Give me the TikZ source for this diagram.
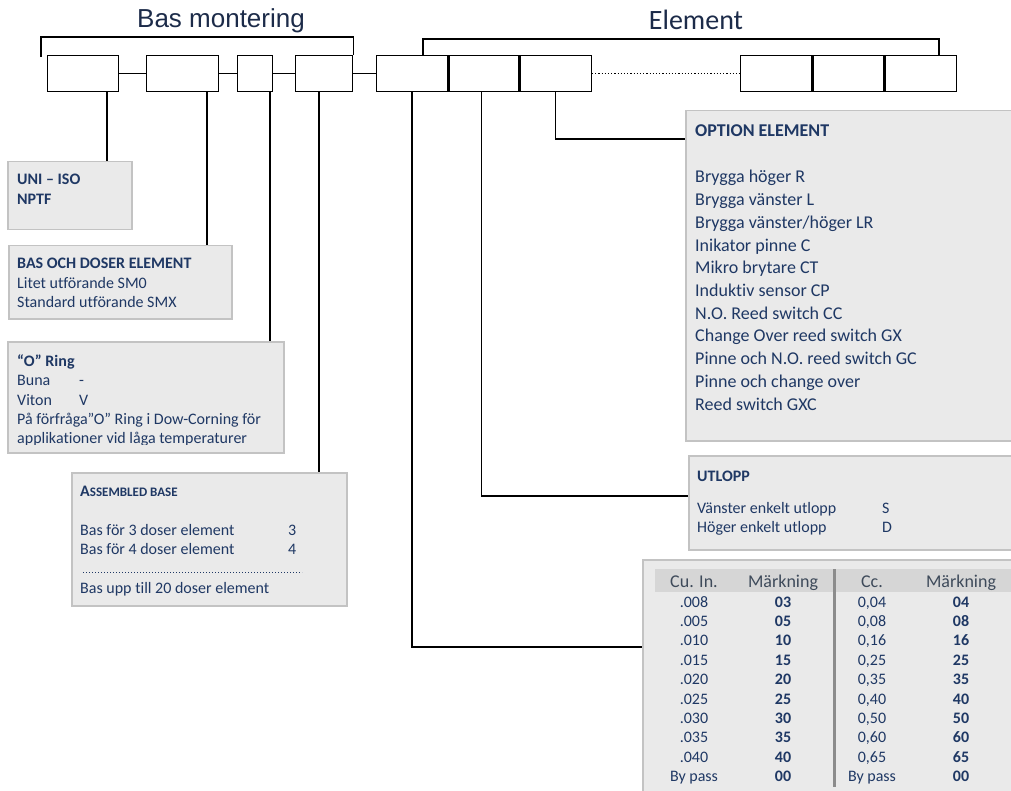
\documentclass[tikz,border=0pt]{standalone}
\usepackage{fontspec}
\setmainfont{Carlito}[Ligatures=NoCommon]
\newfontfamily\arialfont{Liberation Sans}
\usetikzlibrary{positioning}

\definecolor{navy}{HTML}{1F3864}
\definecolor{titlecol}{HTML}{1C2B49}
\definecolor{boxfill}{HTML}{EAEAEA}
\definecolor{boxline}{HTML}{C3C3C3}
\definecolor{hdrfill}{HTML}{D6D6D6}
\definecolor{hdrtext}{HTML}{3E4A5A}
\definecolor{divider}{HTML}{8C8C8C}

\tikzset{
  cell/.style={draw, line width=1.3pt, minimum height=36pt, inner sep=0pt, anchor=north west},
  info/.style={draw=boxline, fill=boxfill, line width=1.5pt, inner sep=0pt, anchor=north west},
  wire/.style={line width=1.4pt},
  txt/.style={anchor=base west, inner sep=0pt, text=navy, font=\fontsize{16}{19}\selectfont},
  txtb/.style={txt, font=\fontsize{16}{19}\selectfont\bfseries},
  big/.style={txt, font=\fontsize{18}{22}\selectfont},
  bigb/.style={txt, font=\fontsize{18}{22}\selectfont\bfseries},
  col/.style={anchor=base, inner sep=0pt, text=navy, font=\fontsize{16}{19}\selectfont},
  colb/.style={col, font=\fontsize{16}{19}\selectfont\bfseries},
  hdr/.style={anchor=base, inner sep=0pt, text=hdrtext, font=\fontsize{18}{22}\selectfont}
}

\begin{document}
\begin{tikzpicture}[x=1pt, y=-1pt]

\useasboundingbox (0,0) rectangle (1011,791);
\clip (0,0) rectangle (1011,791);

% info boxes
\node[info, minimum width=124pt, minimum height=68pt] (uni) at (7,161) {};
\node[info, minimum width=223pt, minimum height=73pt] (bas) at (8,245) {};
\node[info, minimum width=276pt, minimum height=111pt] (oring) at (7,341) {};
\node[info, minimum width=275pt, minimum height=133pt] (asm) at (71,472) {};
\node[info, minimum width=340pt, minimum height=330pt] (opt) at (685,110) {};
\node[info, minimum width=340pt, minimum height=94pt] (utl) at (688,455) {};
\node[info, minimum width=380pt, minimum height=240pt] (tab) at (642,559) {};

% code cells
\node[cell, minimum width=71pt] (b1) at (47,55) {};
\node[cell, minimum width=72pt] (b2) at (146,55) {};
\node[cell, minimum width=35pt] (b3) at (237,55) {};
\node[cell, minimum width=57pt] (b4) at (295,55) {};
\node[cell, minimum width=71pt] (b5) at (376,55) {};
\node[cell, minimum width=70pt, right=0pt of b5] (b6) {};
\node[cell, minimum width=71pt, right=0pt of b6] (b7) {};
\node[cell, minimum width=71pt] (b8) at (740,55) {};
\node[cell, minimum width=71pt, right=0pt of b8] (b9) {};
\node[cell, minimum width=71pt, right=0pt of b9] (b10) {};

\draw[wire] (b1.east) -- (b2.west);
\draw[wire] (b2.east) -- (b3.west);
\draw[wire] (b3.east) -- (b4.west);
\draw[wire] (b4.east) -- (b5.west);
\draw[line width=1.2pt, dotted] (b7.east) -- (b8.west);

% brackets
\draw[wire] ([xshift=-6pt,yshift=-2pt]b1.north west) |- ([yshift=18pt]b4.north east) -- (b4.north east);
\draw[wire] ([xshift=47pt]b5.north west) |- ([xshift=-18pt,yshift=16pt]b10.north east) -- ([xshift=-18pt]b10.north east);
\node[anchor=base, inner sep=0pt, text=titlecol, font=\arialfont\fontsize{26}{30}\selectfont] (tbas) at (221,28) {Bas montering};
\node[anchor=base, inner sep=0pt, text=titlecol, font=\fontsize{28}{32}\selectfont] (telem) at (696,30) {Element};

% leader lines
\coordinate (c1) at ([xshift=60pt]b1.south west);
\coordinate (c2) at ([xshift=61pt]b2.south west);
\coordinate (c3) at ([xshift=33pt]b3.south west);
\coordinate (c4) at ([xshift=24pt]b4.south west);
\coordinate (c6) at ([xshift=33pt]b6.south west);
\draw[wire] (c1) -- (c1 |- uni.north);
\draw[wire] (c2) -- (c2 |- bas.north);
\draw[wire] (c3) -- (c3 |- oring.north);
\draw[wire] (c4) -- (c4 |- asm.north);
\draw[wire] (b5.south) |- ([yshift=-88pt]tab.north west);
\draw[wire] (c6) |- ([yshift=-41pt]utl.north west);
\draw[wire] (b7.south) |- ([yshift=-29pt]opt.north west);

% texts left
\node[txtb] (uni1) at (17,185) {UNI – ISO};
\node[txtb] (uni2) at (17,205) {NPTF};

\node[txtb] (bas1) at (17,269) {BAS OCH DOSER ELEMENT};
\node[txt] (bas2) at (17,289) {Litet utförande SM0};
\node[txt] (bas3) at (17,308) {Standard utförande SMX};

\begin{scope}
\clip (oring.north west) rectangle ([yshift=9pt]oring.south east);
\node[txtb] (or0) at (17,366) {“O” Ring};
\node[txt] (or1) at (17,385) {\makebox[62pt][l]{Buna}-};
\node[txt] (or2) at (17,405) {\makebox[62pt][l]{Viton}V};
\node[txt] (or3) at (17,424) {På förfråga”O” Ring i Dow-Corning för};
\node[txt] (or4) at (17,443) {applikationer vid låga temperaturer};
\end{scope}

\node[txtb] (asm0) at (80,496) {A{\fontsize{13}{16}\selectfont SSEMBLED BASE}};
\node[txt] (asm1) at (80,535) {\makebox[208pt][l]{Bas för 3 doser element}3};
\node[txt] (asm2) at (80,554) {\makebox[208pt][l]{Bas för 4 doser element}4};
\draw[navy, line width=0.9pt, dash pattern=on 0.9pt off 2.1pt] ([xshift=12pt,yshift=-100pt]asm.north west) -- ++(219,0);
\node[txt] (asm3) at (80,593) {Bas upp till 20 doser element};

% option element
\node[bigb] (opt0) at (695,137) {OPTION ELEMENT};
\foreach \t [count=\i] in {Brygga höger R, Brygga vänster L, Brygga vänster/höger LR,
  Inikator pinne C, Mikro brytare CT, Induktiv sensor CP, N.O. Reed switch CC,
  Change Over reed switch GX, Pinne och N.O. reed switch GC, Pinne och change over,
  Reed switch GXC}
  \node[big] (opt\i) at (695,{183+22.7*(\i-1)}) {\t};

% utlopp
\node[txtb] (utl0) at (697,481) {UTLOPP};
\node[txt] (utl1) at (697,513) {\makebox[185pt][l]{Vänster enkelt utlopp}S};
\node[txt] (utl2) at (697,532) {\makebox[185pt][l]{Höger enkelt utlopp}D};

% table
\fill[hdrfill] ([xshift=13pt,yshift=-10pt]tab.north west) rectangle ++(370,23);
\draw[divider, line width=3pt] (834,569) -- (834,787);
\node[hdr] (h1) at (694,587) {Cu. In.};
\node[hdr] (h2) at (783,587) {Märkning};
\node[hdr] (h3) at (872,587) {Cc.};
\node[hdr] (h4) at (961,587) {Märkning};
\foreach \cu/\mc/\cc/\mk [count=\i] in {.008/03/0{,}04/04, .005/05/0{,}08/08,
  .010/10/0{,}16/16, .015/15/0{,}25/25, .020/20/0{,}35/35, .025/25/0{,}40/40,
  .030/30/0{,}50/50, .035/35/0{,}60/60, .040/40/0{,}65/65, By pass/00/By pass/00}
{
  \node[col] (cu\i) at (694,{607+19.4*(\i-1)}) {\cu};
  \node[colb] (mc\i) at (783,{607+19.4*(\i-1)}) {\mc};
  \node[col] (cc\i) at (872,{607+19.4*(\i-1)}) {\cc};
  \node[colb] (mk\i) at (961,{607+19.4*(\i-1)}) {\mk};
}

\end{tikzpicture}
\end{document}
